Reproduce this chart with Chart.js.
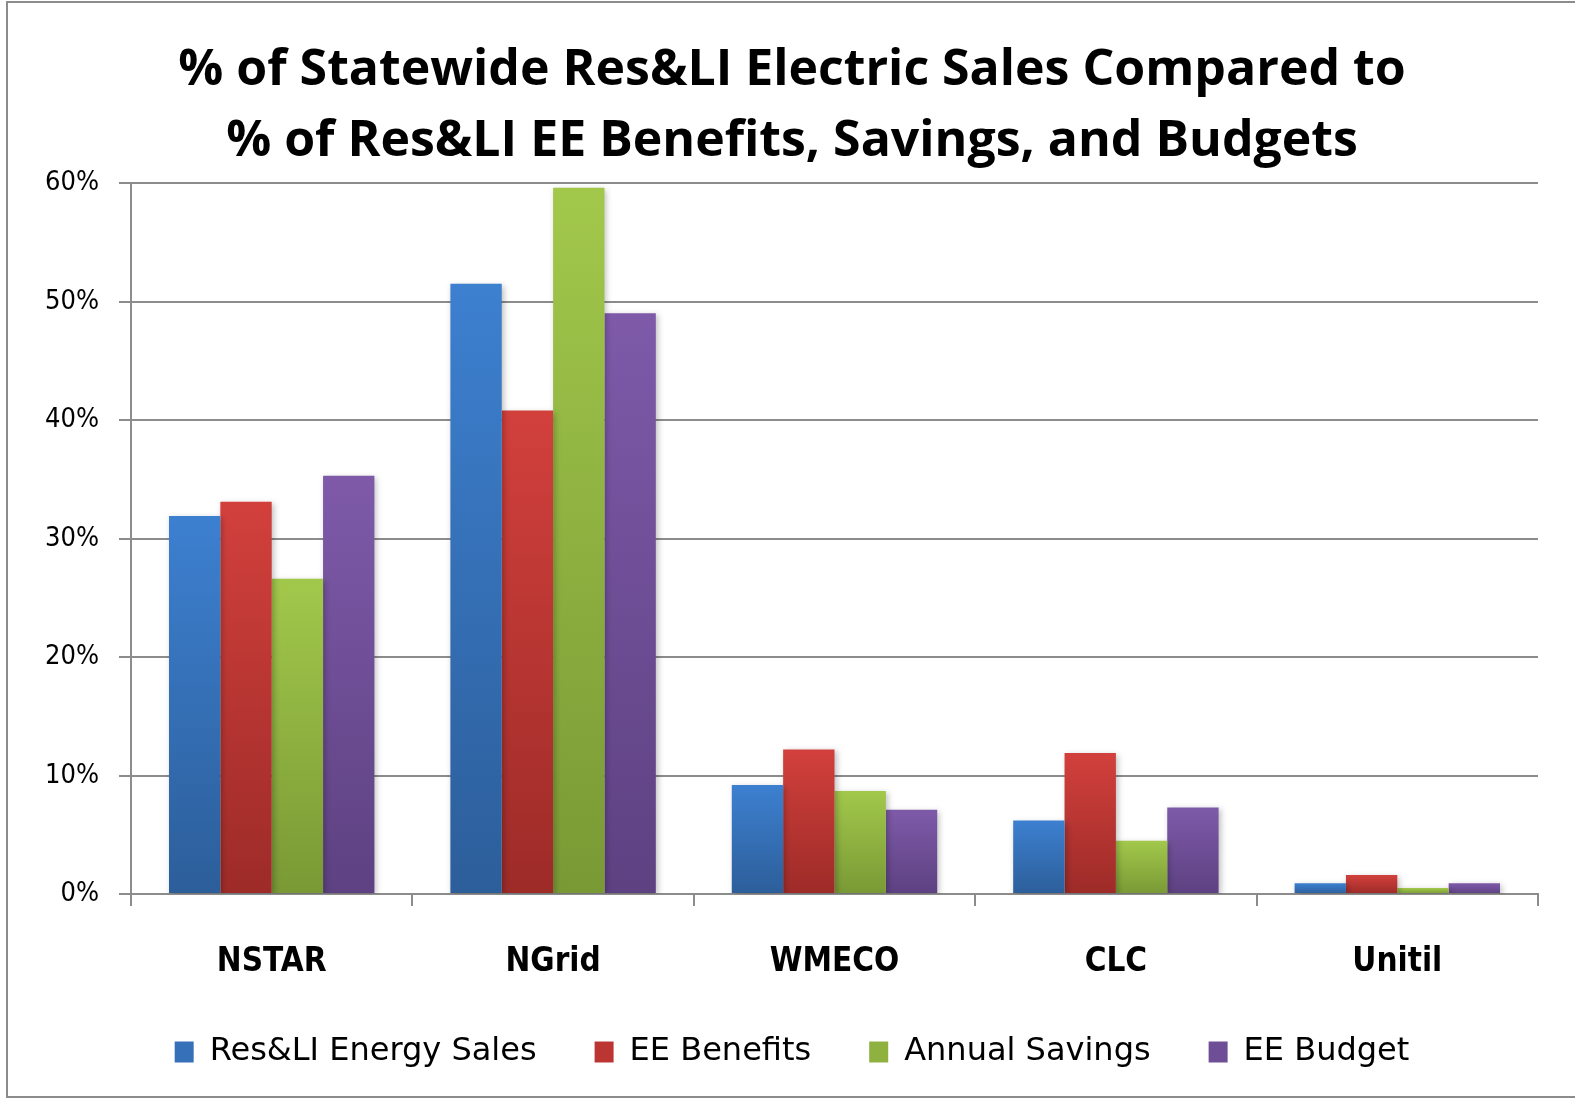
<!DOCTYPE html>
<html>
<head>
<meta charset="utf-8">
<script src="https://cdn.jsdelivr.net/npm/chart.js@4.4.1/dist/chart.umd.min.js"></script>
<style>
  html, body { margin: 0; padding: 0; background: #fff; }
  #wrap { width: 1575px; height: 1099px; }
</style>
</head>
<body>
<div id="wrap"><canvas id="myChart"></canvas></div>
<script>
const categories = ["NSTAR", "NGrid", "WMECO", "CLC", "Unitil"];
const energySales = [31.9, 51.5, 9.2, 6.2, 0.9];
const eeBenefits = [33.1, 40.8, 12.2, 11.9, 1.6];
const annualSavings = [26.6, 59.6, 8.7, 4.5, 0.5];
const eeBudget = [35.3, 49.0, 7.1, 7.3, 0.9];
const yTicks = [0, 10, 20, 30, 40, 50, 60];

const gray = "#8c8c8c";

// top/bottom colours for each series gradient
function barFill(top, bottom) {
  return (ctx) => {
    const chart = ctx.chart;
    const y = chart.scales.y;
    if (!chart.chartArea || ctx.raw === undefined) return bottom;
    const y0 = y.getPixelForValue(ctx.raw);
    const y1 = y.getPixelForValue(0);
    const g = chart.ctx.createLinearGradient(0, y0, 0, y1);
    g.addColorStop(0, top);
    g.addColorStop(1, bottom);
    return g;
  };
}

const series = [
  { label: "Res&LI Energy Sales", data: energySales, top: "#3d80d0", bottom: "#2c5e9a", flat: "#3670b8" },
  { label: "EE Benefits", data: eeBenefits, top: "#d2403c", bottom: "#9d2b28", flat: "#bb3632" },
  { label: "Annual Savings", data: annualSavings, top: "#a2c84b", bottom: "#799935", flat: "#8eb140" },
  { label: "EE Budget", data: eeBudget, top: "#7e5aa9", bottom: "#5d4181", flat: "#6e4e96" },
];

const framePlugin = {
  id: "frame",
  beforeDatasetsDraw(chart) {
    const c = chart.ctx;
    c.save();
    c.shadowColor = "rgba(0,0,0,0.25)";
    c.shadowBlur = 6;
    c.shadowOffsetX = 2;
    c.shadowOffsetY = 2;
  },
  afterDatasetsDraw(chart) {
    chart.ctx.restore();
  },
  afterDraw(chart) {
    const c = chart.ctx;
    c.save();
    c.strokeStyle = gray;
    c.lineWidth = 2;
    c.strokeRect(7, 2, 1600, 1095);
    c.restore();
  },
};

new Chart(document.getElementById("myChart"), {
  type: "bar",
  data: {
    labels: categories,
    datasets: series.map((s) => ({
      label: s.label,
      data: s.data,
      backgroundColor: barFill(s.top, s.bottom),
      flatColor: s.flat,
      borderWidth: 0,
      categoryPercentage: 0.73,
      barPercentage: 1.0,
    })),
  },
  options: {
    responsive: true,
    maintainAspectRatio: false,
    animation: false,
    layout: { padding: { left: 46, right: 37, top: 0, bottom: 21 } },
    plugins: {
      title: {
        display: true,
        text: ["% of Statewide Res&LI Electric Sales Compared to", "% of Res&LI EE Benefits, Savings, and Budgets"],
        color: "#000",
        font: { family: "Open Sans", weight: "bold", size: 50, lineHeight: 1.42 },
        padding: { top: 35, bottom: 6 },
      },
      legend: {
        position: "bottom",
        labels: {
          color: "#000",
          font: { family: "DejaVu Sans", size: 32 },
          boxWidth: 19,
          boxHeight: 21,
          padding: 58,
          generateLabels(chart) {
            return chart.data.datasets.map((d, i) => ({
              text: d.label,
              fillStyle: d.flatColor,
              strokeStyle: d.flatColor,
              lineWidth: 0,
              hidden: false,
              datasetIndex: i,
            }));
          },
        },
      },
      tooltip: { enabled: false },
    },
    scales: {
      x: {
        afterFit(scale) {
          scale.height = 84;
        },
        grid: { drawOnChartArea: false, drawTicks: true, tickLength: 12, color: gray, lineWidth: 2 },
        border: { display: true, color: gray, width: 2 },
        ticks: {
          color: "#000",
          padding: 40,
          font: { family: "'DejaVu Sans Condensed', 'DejaVu Sans'", weight: "bold", size: 33, lineHeight: 1.0 },
        },
      },
      y: {
        min: 0,
        max: 60,
        afterBuildTicks(scale) {
          scale.ticks = yTicks.map((v) => ({ value: v }));
        },
        afterFit(scale) {
          scale.width = 85;
        },
        grid: { color: gray, lineWidth: 2, tickLength: 12 },
        border: { display: true, color: gray, width: 2 },
        ticks: {
          color: "#000",
          padding: 20,
          font: { family: "'DejaVu Sans Condensed', 'DejaVu Sans'", size: 27 },
          callback: (v) => v + "%",
        },
      },
    },
  },
  plugins: [framePlugin],
});
</script>
</body>
</html>
